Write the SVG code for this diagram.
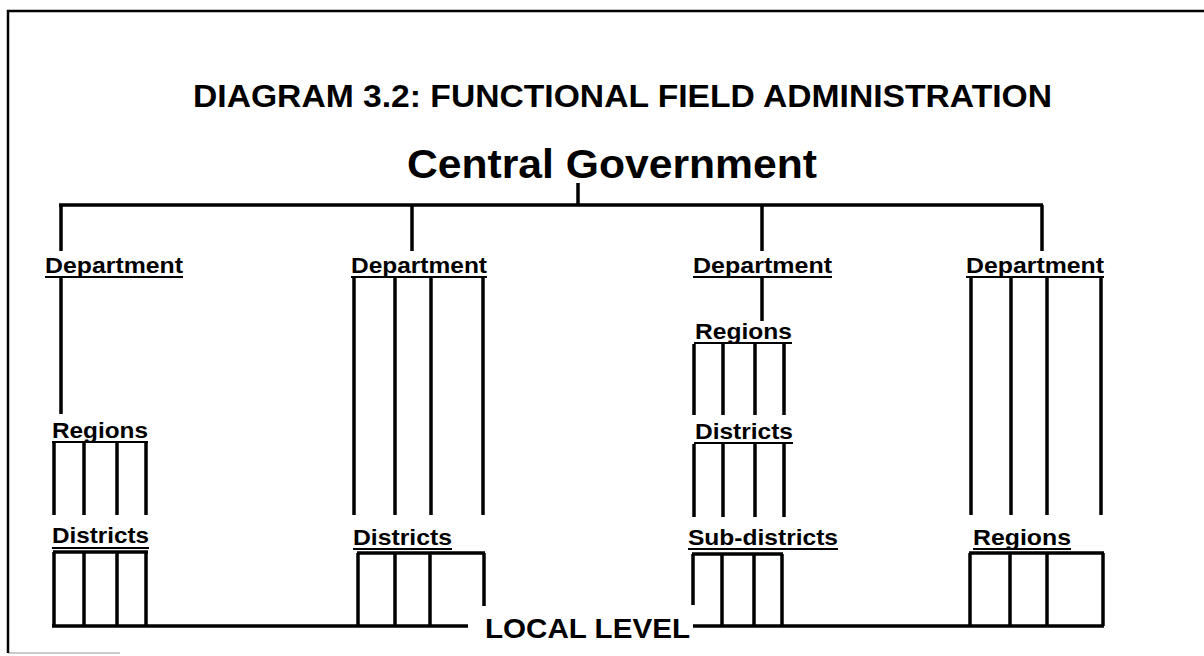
<svg xmlns="http://www.w3.org/2000/svg" width="1204" height="656" viewBox="0 0 1204 656">
  <style>
    text { font-family: "Liberation Sans", Arial, sans-serif; font-weight: bold; fill: #000; }
    .title { font-size: 31px; }
    .head { font-size: 40px; }
    .lbl { font-size: 22px; }
    .local { font-size: 27px; }
    .ul { stroke: #000; stroke-width: 2; }
    .ln { stroke: #000; stroke-width: 3.5; fill: none; stroke-linecap: butt; }
    .frame { stroke: #000; stroke-width: 2.5; fill: none; }
  </style>

  <rect width="1204" height="656" fill="#fff"/>

  <!-- outer frame (left, top, faint bottom) -->
  <g id="frame">
    <path class="frame" d="M8,653 L8,11 L1204,11"/>
    <line x1="8" y1="653" x2="120" y2="653" stroke="#000" stroke-width="1" opacity="0.4"/>
  </g>

  <g id="title">
    <text class="title" x="193" y="107" textLength="859" lengthAdjust="spacingAndGlyphs">DIAGRAM 3.2: FUNCTIONAL FIELD ADMINISTRATION</text>
  </g>

  <g id="central">
    <text class="head" x="407" y="178" textLength="410" lengthAdjust="spacingAndGlyphs">Central Government</text>
  </g>

  <!-- department labels -->
  <g id="dept1">
    <text class="lbl" x="45" y="273" textLength="138" lengthAdjust="spacingAndGlyphs">Department</text>
    <line class="ul" x1="45" y1="277" x2="183" y2="277"/>
  </g>
  <g id="dept2">
    <text class="lbl" x="351" y="273" textLength="136" lengthAdjust="spacingAndGlyphs">Department</text>
    <line class="ul" x1="351" y1="277" x2="487" y2="277"/>
  </g>
  <g id="dept3">
    <text class="lbl" x="693" y="273" textLength="139" lengthAdjust="spacingAndGlyphs">Department</text>
    <line class="ul" x1="693" y1="277" x2="832" y2="277"/>
  </g>
  <g id="dept4">
    <text class="lbl" x="966" y="273" textLength="138" lengthAdjust="spacingAndGlyphs">Department</text>
    <line class="ul" x1="966" y1="277" x2="1104" y2="277"/>
  </g>

  <!-- column 1 levels -->
  <g id="regions1">
    <text class="lbl" x="52" y="438" textLength="96" lengthAdjust="spacingAndGlyphs">Regions</text>
    <line class="ul" x1="52" y1="442" x2="148" y2="442"/>
  </g>
  <g id="districts1">
    <text class="lbl" x="52" y="543" textLength="97" lengthAdjust="spacingAndGlyphs">Districts</text>
    <line class="ul" x1="52" y1="548" x2="149" y2="548"/>
  </g>

  <!-- column 2 levels -->
  <g id="districts2">
    <text class="lbl" x="353" y="545" textLength="99" lengthAdjust="spacingAndGlyphs">Districts</text>
    <line class="ul" x1="353" y1="549" x2="452" y2="549"/>
  </g>

  <!-- column 3 levels -->
  <g id="regions3">
    <text class="lbl" x="695" y="339" textLength="97" lengthAdjust="spacingAndGlyphs">Regions</text>
    <line class="ul" x1="694" y1="343" x2="792" y2="343"/>
  </g>
  <g id="districts3">
    <text class="lbl" x="695" y="439" textLength="98" lengthAdjust="spacingAndGlyphs">Districts</text>
    <line class="ul" x1="694" y1="443" x2="793" y2="443"/>
  </g>
  <g id="subdistricts3">
    <text class="lbl" x="688" y="545" textLength="150" lengthAdjust="spacingAndGlyphs">Sub-districts</text>
    <line class="ul" x1="688" y1="549" x2="838" y2="549"/>
  </g>

  <!-- column 4 levels -->
  <g id="regions4">
    <text class="lbl" x="973" y="545" textLength="98" lengthAdjust="spacingAndGlyphs">Regions</text>
    <line class="ul" x1="973" y1="549" x2="1071" y2="549"/>
  </g>

  <g id="local">
    <text class="local" x="485" y="638" textLength="205" lengthAdjust="spacingAndGlyphs">LOCAL LEVEL</text>
  </g>

  <!-- connectors -->
  <g id="connectors" class="ln">
    <!-- central tick and bus -->
    <line x1="578" y1="183" x2="578" y2="205"/>
    <line x1="59" y1="205" x2="1043" y2="205"/>
    <!-- drops to departments -->
    <line x1="61" y1="205" x2="61" y2="251"/>
    <line x1="412" y1="205" x2="412" y2="251"/>
    <line x1="762" y1="205" x2="762" y2="251"/>
    <line x1="1042" y1="205" x2="1042" y2="251"/>

    <!-- column 1 -->
    <line x1="61" y1="278" x2="61" y2="414"/>
    <line x1="54" y1="443" x2="54" y2="515"/>
    <line x1="84" y1="443" x2="84" y2="515"/>
    <line x1="117" y1="443" x2="117" y2="515"/>
    <line x1="146" y1="443" x2="146" y2="515"/>
    <line x1="53" y1="552" x2="148" y2="552"/>
    <line x1="54" y1="552" x2="54" y2="626"/>
    <line x1="84" y1="552" x2="84" y2="626"/>
    <line x1="117" y1="552" x2="117" y2="626"/>
    <line x1="146" y1="552" x2="146" y2="626"/>

    <!-- column 2 -->
    <line x1="354" y1="278" x2="354" y2="515"/>
    <line x1="395" y1="278" x2="395" y2="515"/>
    <line x1="431" y1="278" x2="431" y2="515"/>
    <line x1="483" y1="278" x2="483" y2="515"/>
    <line x1="357" y1="553" x2="485" y2="553"/>
    <line x1="358" y1="553" x2="358" y2="626"/>
    <line x1="395" y1="553" x2="395" y2="626"/>
    <line x1="430" y1="553" x2="430" y2="626"/>
    <line x1="484" y1="553" x2="484" y2="606"/>

    <!-- bottom line, left part -->
    <line x1="52" y1="626" x2="468" y2="626"/>

    <!-- column 3 -->
    <line x1="762" y1="278" x2="762" y2="321"/>
    <line x1="694" y1="344" x2="694" y2="415"/>
    <line x1="723" y1="344" x2="723" y2="415"/>
    <line x1="755" y1="344" x2="755" y2="415"/>
    <line x1="784" y1="344" x2="784" y2="415"/>
    <line x1="694" y1="444" x2="694" y2="517"/>
    <line x1="723" y1="444" x2="723" y2="517"/>
    <line x1="755" y1="444" x2="755" y2="517"/>
    <line x1="784" y1="444" x2="784" y2="517"/>
    <line x1="692" y1="554" x2="783" y2="554"/>
    <line x1="693" y1="554" x2="693" y2="605"/>
    <line x1="722" y1="554" x2="722" y2="626"/>
    <line x1="754" y1="554" x2="754" y2="626"/>
    <line x1="782" y1="554" x2="782" y2="626"/>

    <!-- column 4 -->
    <line x1="971" y1="278" x2="971" y2="515"/>
    <line x1="1011" y1="278" x2="1011" y2="515"/>
    <line x1="1047" y1="278" x2="1047" y2="515"/>
    <line x1="1101" y1="278" x2="1101" y2="515"/>
    <line x1="969" y1="553" x2="1104" y2="553"/>
    <line x1="970" y1="553" x2="970" y2="626"/>
    <line x1="1010" y1="553" x2="1010" y2="626"/>
    <line x1="1047" y1="553" x2="1047" y2="626"/>
    <line x1="1103" y1="553" x2="1103" y2="626"/>

    <!-- bottom line, right part -->
    <line x1="693" y1="626" x2="1104" y2="626"/>
  </g>
</svg>
